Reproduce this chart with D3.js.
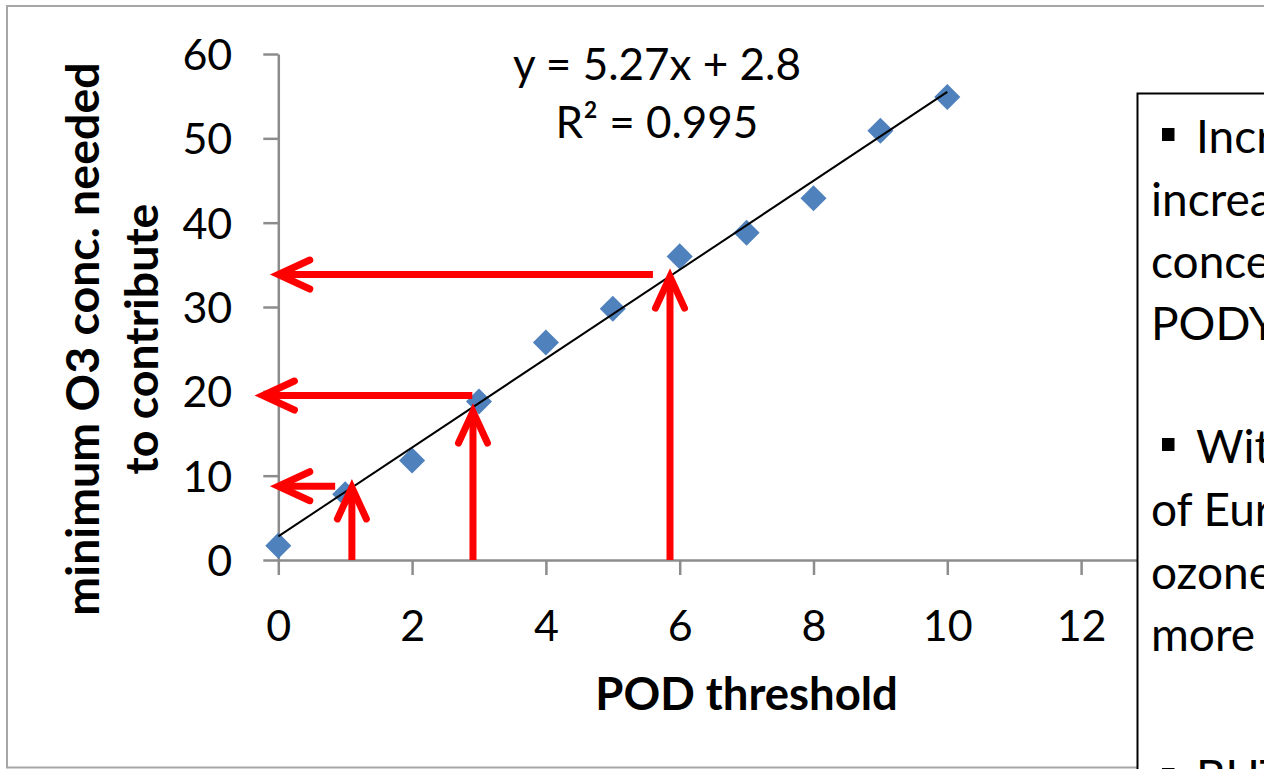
<!DOCTYPE html>
<html>
<head>
<meta charset="utf-8">
<script src="https://cdn.jsdelivr.net/npm/d3@7"></script>
<style>
  html, body { margin: 0; padding: 0; background: #ffffff; overflow: hidden; }
  svg { display: block; }
  text { font-family: Lato, "Open Sans", sans-serif; fill: #000; }
</style>
</head>
<body>
<svg id="chart" width="1264" height="769"></svg>
<script>
// ---- data ----
const podThreshold = [0, 1, 2, 3, 4, 5, 6, 7, 8, 9, 10];
const minO3 = [1.7, 7.8, 11.8, 18.8, 25.8, 29.8, 36.0, 38.8, 42.9, 50.9, 54.9];
const xTicks = [0, 2, 4, 6, 8, 10, 12];
const yTicks = [0, 10, 20, 30, 40, 50, 60];
const trendSlope = 5.27;
const trendIntercept = 2.8;
const trendLabels = ["y = 5.27x + 2.8", "R² = 0.995"];
// arrows in data units: vertical (pointing up) and horizontal (pointing left)
const upArrowX = [1.1, 2.91, 5.855];
const upArrowTop = [8.6, 17.6, 33.6];
const leftArrowY = [8.75, 19.5, 33.85];
const leftArrowFrom = [0.85, 2.9, 5.6];
const leftArrowTo = [0, -0.23, 0];
const yTitleLines = ["minimum O3 conc. needed", "to contribute"];
const xTitle = "POD threshold";
const noteLines = [
  {bullet: true,  text: "Increasing the"},
  {bullet: false, text: "increases the"},
  {bullet: false, text: "concentration"},
  {bullet: false, text: "PODY"},
  {bullet: true,  text: "With"},
  {bullet: false, text: "of Europe"},
  {bullet: false, text: "ozone"},
  {bullet: false, text: "more"},
  {bullet: true,  text: "BUT"}
];
const noteBaselines = [153, 215.5, 278, 340, 463, 526, 588.5, 651, 793];

// ---- layout ----
const svg = d3.select("#chart");
svg.append("rect").attr("x", 0).attr("y", 0).attr("width", 1264).attr("height", 769).attr("fill", "#fff");
// chart area border
svg.append("rect").attr("x", 7).attr("y", 6).attr("width", 1300).attr("height", 761.5)
  .attr("fill", "none").attr("stroke", "#a6a6a6").attr("stroke-width", 2);

const x = d3.scaleLinear().domain([0, 14]).range([278.3, 1214.9]);
const y = d3.scaleLinear().domain([0, 60]).range([560, 54]);

const axisColor = "#8c8c8c";
const tickFont = 43;

// y axis
const gy = svg.append("g").attr("transform", `translate(${x(0)},0)`)
  .call(d3.axisLeft(y).tickValues(yTicks).tickSize(15).tickSizeOuter(0).tickPadding(31).tickFormat(d3.format("d")));
// x axis
const gx = svg.append("g").attr("transform", `translate(0,${y(0)})`)
  .call(d3.axisBottom(x).tickValues(xTicks).tickSize(15).tickSizeOuter(0).tickFormat(d3.format("d")));

[gy, gx].forEach(g => {
  g.select(".domain").attr("stroke", axisColor).attr("stroke-width", 2.5);
  g.selectAll(".tick line").attr("stroke", axisColor).attr("stroke-width", 2.5);
  g.selectAll(".tick text").attr("font-size", tickFont).attr("font-family", "Lato").attr("fill", "#000");
});
gy.selectAll(".tick text").attr("dy", "0.36em");
gx.selectAll(".tick text").attr("dy", null).attr("y", 81);

// markers
const diamond = d3.symbol().type(d3.symbolSquare).size(340);
svg.append("g").selectAll("path").data(podThreshold).join("path")
  .attr("d", diamond)
  .attr("transform", (d, i) => `translate(${x(d)},${y(minO3[i])}) rotate(45)`)
  .attr("fill", "#4f81bd");

// trendline
const tx = d3.extent(podThreshold);
svg.append("line")
  .attr("x1", x(tx[0])).attr("y1", y(trendIntercept + trendSlope * tx[0]))
  .attr("x2", x(tx[1])).attr("y2", y(trendIntercept + trendSlope * tx[1]))
  .attr("stroke", "#000").attr("stroke-width", 2);

// trend labels
svg.append("g").selectAll("text").data(trendLabels).join("text")
  .attr("x", 657).attr("y", (d, i) => 80 + i * 58)
  .attr("text-anchor", "middle").attr("font-size", 44)
  .text(d => d);

// red arrows
const red = "#ff0000", aw = 7, headL = 31.5, headW = 14.5;
const ag = svg.append("g");
upArrowX.forEach((ax, i) => {
  const px = x(ax), py0 = y(0), py1 = y(upArrowTop[i]);
  ag.append("line").attr("x1", px).attr("x2", px).attr("y1", py0).attr("y2", py1 + 3)
    .attr("stroke", red).attr("stroke-width", aw);
  ag.append("path").attr("d", `M${px - headW},${py1 + headL} L${px},${py1} L${px + headW},${py1 + headL}`)
    .attr("fill", "none").attr("stroke", red).attr("stroke-width", aw)
    .attr("stroke-linecap", "round").attr("stroke-linejoin", "miter");
});
leftArrowY.forEach((ay, i) => {
  const py = y(ay), px0 = x(leftArrowFrom[i]), px1 = x(leftArrowTo[i]);
  ag.append("line").attr("x1", px0).attr("x2", px1 + 3).attr("y1", py).attr("y2", py)
    .attr("stroke", red).attr("stroke-width", aw);
  ag.append("path").attr("d", `M${px1 + headL},${py - headW} L${px1},${py} L${px1 + headL},${py + headW}`)
    .attr("fill", "none").attr("stroke", red).attr("stroke-width", aw)
    .attr("stroke-linecap", "round").attr("stroke-linejoin", "miter");
});

// axis titles
svg.append("text").attr("x", x(7)).attr("y", 710).attr("text-anchor", "middle")
  .attr("font-size", 45.5).attr("font-weight", "bold").text(xTitle);
const yt = svg.append("g").attr("transform", "translate(0,339) rotate(-90)");
yt.selectAll("text").data(yTitleLines).join("text")
  .attr("x", 0).attr("y", (d, i) => 99 + i * 58.7)
  .attr("text-anchor", "middle").attr("font-size", 46.5).attr("font-weight", "bold")
  .text(d => d);

// text box (covers right part of the axis)
svg.append("rect").attr("x", 1137.5).attr("y", 93.5).attr("width", 200).attr("height", 700)
  .attr("fill", "#fff").attr("stroke", "#000").attr("stroke-width", 2);
const nb = svg.append("g");
noteLines.forEach((ln, i) => {
  const by = noteBaselines[i];
  if (ln.bullet) {
    nb.append("rect").attr("x", 1162).attr("y", by - 25).attr("width", 12.5).attr("height", 13).attr("fill", "#000");
    nb.append("text").attr("x", 1196).attr("y", by).attr("font-size", 46).text(ln.text);
  } else {
    nb.append("text").attr("x", 1151).attr("y", by).attr("font-size", 46).text(ln.text);
  }
});
</script>
</body>
</html>
